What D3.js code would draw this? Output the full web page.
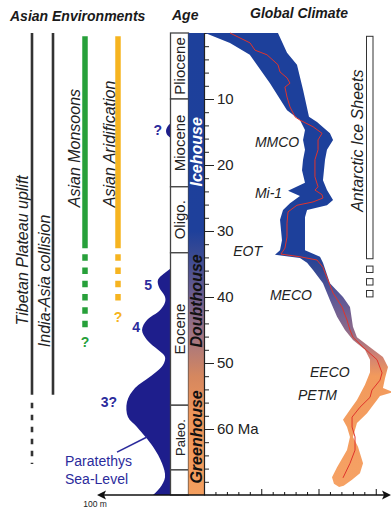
<!DOCTYPE html>
<html><head><meta charset="utf-8">
<script src="https://cdn.jsdelivr.net/npm/d3@7"></script>
<style>
body{margin:0;background:#fff}
svg{display:block;font-family:"Liberation Sans",Arial,sans-serif}
</style>
</head><body>
<svg id="chart" width="391" height="509"></svg>
<script>
// ---- Geological time scale (Ma) ----
const epochNames = ["Pliocene", "Miocene", "Oligo.", "Eocene", "Paleo.", ""];
const epochBounds = [0, 10, 23.3, 33.3, 56.4, 66.2, 70];
const ageMinorTicks = d3.range(0, 70, 2);
const ageMajorTicks = [10, 20, 30, 40, 50, 60];

// Climate states and the age where each label is centred
const stateNames = ["Icehouse", "Doubthouse", "Greenhouse"];
const stateAges = [18.0, 40.6, 61.2];

// ---- Asian environment records (ages in Ma) ----
const envNames = ["Tibetan Plateau uplift", "India-Asia collision", "Asian Monsoons", "Asian Aridification"];
const envStart = [0, 0, 0.5, 0.5];
const envSolidEnd = [54.8, 54.8, 32.6, 32.6];
const envDashEnd = [65.3, null, 44.6, 40.8];
const envQuery = [false, false, true, true];

// ---- Antarctic ice sheets ----
const iceStart = 0.5, iceEnd = 34.2;
const iceEphemeral = [35.8, 37.7, 39.5];

// ---- Paratethys sea level (m above base) ----
const seaAges = [35.6, 36.1, 37.4, 38.5, 40.0, 40.8, 42.0, 43.5, 45.0, 46.5, 48.0, 49.1, 50.3, 52.1, 53.8, 55.9, 58.2, 59.7, 62.7, 65.2, 67.3, 68.9, 70.0];
const seaLevels = [0, 5.6, 18.3, 16.9, 8.4, 8.4, 15.5, 33.8, 40.8, 33.8, 18.3, 8.4, 11.3, 29.6, 50.7, 62.0, 60.6, 47.9, 25.3, 12.7, 8.4, 15.5, 25.3];
const seaMioAges = [13.6, 14.2, 14.8, 15.4, 15.9];
const seaMioLevels = [0, 5, 7, 5.5, 0];
const seaCycleNames = ["?", "5", "4", "3?"];
const seaCycleAges = [15.5, 38.9, 45.3, 56.7];
const seaCycleLevels = [12.7, 26.8, 43.6, 76];

// ---- Global climate curve: envelope edges and central curve [age, value] ----
const climateLeft = [[0,0.1],[1.5,2.27],[3.3,4.0],[7.6,5.76],[11.7,7.25],[13.2,8.38],[14.7,8.82],[16.2,8.65],[17.7,8.82],[19.2,8.65],[20.8,8.56],[22.7,8.82],[23.9,7.34],[24.7,8.38],[25.8,7.51],[26.8,6.9],[28.3,6.64],[31.4,6.81],[32.9,6.64],[33.6,6.2],[34.1,8.38],[34.8,9.0],[35.9,9.52],[37.9,10.39],[40.5,11.0],[43.0,11.62],[45.0,12.31],[46.5,13.01],[48.0,14.06],[49.5,14.5],[51.4,14.5],[53.3,14.06],[55.6,13.36],[57.1,12.75],[58.6,12.14],[59.7,12.49],[61.2,12.75],[63.2,12.49],[65.8,11.62],[67.3,11.18],[68.3,11.35],[68.8,11.8]];
const climateRight = [[0,6.46],[3.0,7.25],[4.8,8.12],[8.6,8.65],[12.7,9.17],[13.5,9.87],[15.2,11.0],[16.2,11.27],[17.7,10.74],[19.2,10.57],[22.3,10.39],[23.8,10.74],[25.3,11.27],[26.1,10.74],[26.8,9.0],[27.9,8.82],[31.4,8.82],[32.9,8.82],[33.9,10.13],[34.8,10.39],[37.9,11.0],[40.0,12.14],[41.5,12.75],[44.5,13.01],[46.1,13.36],[47.6,14.5],[49.1,15.63],[50.6,16.07],[52.3,15.81],[53.8,15.63],[54.4,16.51],[55.0,15.37],[55.6,15.11],[57.6,14.24],[59.1,13.36],[61.2,13.01],[62.7,13.45],[65.2,13.89],[66.7,13.62],[67.7,12.93],[68.6,12.2]];
const climateMid = [[0,2.27],[1.5,4.02],[2.6,4.45],[3.3,5.5],[4.8,6.46],[5.9,6.64],[6.8,7.25],[7.6,7.51],[8.2,7.07],[9.7,7.25],[11.2,7.51],[12.7,7.95],[13.2,8.38],[14.2,9.52],[15.2,10.31],[16.2,9.96],[17.7,9.96],[19.2,9.69],[21.8,9.69],[23.3,9.96],[23.8,9.69],[24.5,10.31],[25.0,10.39],[25.6,9.52],[26.1,8.12],[27.1,7.34],[28.8,7.25],[30.9,7.25],[32.6,7.07],[33.5,6.72],[33.9,8.38],[34.4,9.87],[35.5,10.39],[39.4,11.27],[41.5,12.05],[43.5,12.49],[45.0,12.75],[46.1,13.01],[47.6,13.89],[49.5,15.11],[51.5,15.55],[52.6,15.37],[54.1,14.67],[55.2,14.5],[56.7,13.62],[58.2,12.93],[59.7,12.93],[61.2,13.19],[63.2,13.19],[65.2,12.75],[67.4,12.14]];
const eventNames = ["MMCO", "Mi-1", "EOT", "MECO", "EECO", "PETM"];
const eventAges = [17.3, 25.0, 33.8, 40.5, 52.1, 55.6];
const eventValues = [4.45, 4.45, 2.55, 5.76, 9.26, 8.21];
const climateTicks = d3.range(1, 16);
const climateMajor = [5, 10, 15];

// Colour ramps along the age axis
const barStopAges = [0, 30, 34, 40, 46, 52, 58, 70];
const barStopColors = ["#1d409b", "#1e409b", "#3c4b92", "#6f5f8e", "#a37581", "#d5875f", "#ef965a", "#f49f5f"];
const bandStopAges = [0, 33, 36, 40, 45, 49, 52, 70];
const bandStopColors = ["#1d409b", "#1d409b", "#354892", "#5b5797", "#8c6a8a", "#d08273", "#f29a5c", "#f6a265"];

// ---- Scales ----
const svg = d3.select("#chart");
const y = d3.scaleLinear().domain([0, 70]).range([33, 495]);
const xc = d3.scaleLinear().domain([0, 16]).range([204, 204 + 16 * 11.45]);
const xs = d3.scaleLinear().domain([0, 100]).range([171, 100]);

const defs = svg.append("defs");
function gradient(id, ages, colors) {
  const g = defs.append("linearGradient").attr("id", id)
    .attr("gradientUnits", "userSpaceOnUse")
    .attr("x1", 0).attr("x2", 0).attr("y1", y(0)).attr("y2", y(70));
  ages.forEach((a, i) => g.append("stop").attr("offset", a / 70).attr("stop-color", colors[i]));
}
gradient("barGrad", barStopAges, barStopColors);
gradient("bandGrad", bandStopAges, bandStopColors);

// ---- Headers ----
const hdr = svg.append("g").attr("font-weight", "bold").attr("font-style", "italic")
  .attr("font-size", 14).attr("fill", "#1a1a1a");
hdr.append("text").attr("x", 10).attr("y", 21).text("Asian Environments");
hdr.append("text").attr("x", 172).attr("y", 20).text("Age");
hdr.append("text").attr("x", 250).attr("y", 18).text("Global Climate");

// ---- Asian environment bars ----
const envX = [32, 53, 85, 118];
const envColor = ["#333", "#333", "#27a03a", "#f6b420"];
const envWidth = [2.6, 2.6, 5.5, 5.5];
const envLabelX = [28, 50, 80, 115];
const envLabelStart = [44.3, 47.6, 26.4, 26.4];
envNames.forEach((name, i) => {
  svg.append("line").attr("x1", envX[i]).attr("x2", envX[i])
    .attr("y1", y(envStart[i])).attr("y2", y(envSolidEnd[i]))
    .attr("stroke", envColor[i]).attr("stroke-width", envWidth[i]);
  if (envDashEnd[i] !== null) {
    const dash = i < 2 ? "5.5,6.5" : "6.5,6.8";
    svg.append("line").attr("x1", envX[i]).attr("x2", envX[i])
      .attr("y1", y(envSolidEnd[i]) + (i < 2 ? 8 : 6)).attr("y2", y(envDashEnd[i]))
      .attr("stroke", envColor[i]).attr("stroke-width", envWidth[i])
      .attr("stroke-dasharray", dash);
  }
  if (envQuery[i]) {
    svg.append("text").attr("x", envX[i]).attr("y", y(envDashEnd[i]) + 20)
      .attr("text-anchor", "middle").attr("font-size", 14).attr("font-weight", "bold")
      .attr("fill", envColor[i]).text("?");
  }
  svg.append("text")
    .attr("transform", `translate(${envLabelX[i]},${y(envLabelStart[i])}) rotate(-90)`)
    .attr("font-size", 16).attr("font-style", "italic").attr("fill", "#222")
    .text(name);
});

// ---- Paratethys sea level ----
const seaColor = "#1e1e8c";
const seaArea = d3.area().curve(d3.curveCatmullRom.alpha(0.5))
  .y(d => y(d[0])).x0(xs(0)).x1(d => xs(d[1]));
svg.append("path").datum(seaAges.map((a, i) => [a, seaLevels[i]]))
  .attr("d", seaArea).attr("fill", seaColor);
svg.append("path").datum(seaMioAges.map((a, i) => [a, seaMioLevels[i]]))
  .attr("d", seaArea).attr("fill", seaColor);
seaCycleNames.forEach((n, i) => {
  svg.append("text").attr("x", xs(seaCycleLevels[i])).attr("y", y(seaCycleAges[i]))
    .attr("text-anchor", "end").attr("font-size", 14).attr("font-weight", "bold")
    .attr("fill", "#2b2b9c").text(n);
});
svg.append("line").attr("x1", xs(33.8)).attr("y1", y(61.2))
  .attr("x2", xs(76)).attr("y2", y(63.5)).attr("stroke", "#2b2b9c").attr("stroke-width", 1.6);
svg.append("text").attr("x", 65).attr("y", 466).attr("font-size", 14).attr("fill", "#2b2b9c").text("Paratethys");
svg.append("text").attr("x", 65).attr("y", 484).attr("font-size", 14).attr("fill", "#2b2b9c").text("Sea-Level");

// ---- Epoch column ----
const epochs = epochNames.map((n, i) => ({ name: n, top: epochBounds[i], bottom: epochBounds[i + 1] }));
const eg = svg.append("g");
eg.selectAll("rect").data(epochs).join("rect")
  .attr("x", 170.5).attr("width", 18)
  .attr("y", d => y(d.top)).attr("height", d => y(d.bottom) - y(d.top))
  .attr("fill", "#fff").attr("stroke", "#444").attr("stroke-width", 1.3);
eg.selectAll("text").data(epochs).join("text")
  .attr("transform", d => `translate(185,${(y(d.top) + y(d.bottom)) / 2}) rotate(-90)`)
  .attr("text-anchor", "middle").attr("font-size", d => d.name === "Paleo." ? 13 : 15)
  .attr("fill", "#222").text(d => d.name);

// ---- Climate state bar ----
svg.append("rect").attr("x", 188.5).attr("y", y(0)).attr("width", 15.5)
  .attr("height", y(70) - y(0)).attr("fill", "url(#barGrad)");
stateNames.forEach((n, i) => {
  svg.append("text")
    .attr("transform", `translate(202,${y(stateAges[i])}) rotate(-90)`)
    .attr("text-anchor", "middle").attr("font-size", 16).attr("font-weight", "bold")
    .attr("font-style", "italic").attr("fill", i === 0 ? "#fff" : "#111").text(n);
});

// ---- Age axis ----
svg.append("g").attr("transform", "translate(204,0)")
  .call(d3.axisRight(y).tickValues(ageMinorTicks).tickSize(5).tickSizeOuter(0).tickFormat(""))
  .call(g => g.select(".domain").attr("stroke", "#222").attr("stroke-width", 1.2))
  .call(g => g.selectAll(".tick line").attr("stroke", "#222"));
svg.append("g").attr("transform", "translate(204,0)")
  .call(d3.axisRight(y).tickValues(ageMajorTicks).tickSize(10).tickPadding(3)
    .tickFormat(d => d === 60 ? "60 Ma" : d))
  .call(g => g.select(".domain").remove())
  .call(g => g.selectAll(".tick line").attr("stroke", "#222"))
  .call(g => g.selectAll(".tick text").attr("font-size", 15).attr("fill", "#222")
    .attr("font-family", "Liberation Sans, Arial, sans-serif"));

// ---- Antarctic ice sheets ----
svg.append("rect").attr("x", 366.5).attr("width", 6.5).attr("y", y(iceStart))
  .attr("height", y(iceEnd) - y(iceStart)).attr("fill", "#fff")
  .attr("stroke", "#333").attr("stroke-width", 1);
svg.selectAll(".ice").data(iceEphemeral).join("rect").attr("class", "ice")
  .attr("x", 366.5).attr("width", 6.5).attr("y", d => y(d) - 3.2).attr("height", 6.4)
  .attr("fill", "#fff").attr("stroke", "#333").attr("stroke-width", 1);
svg.append("text").attr("transform", `translate(363,${y(27.1)}) rotate(-90)`)
  .attr("font-size", 16).attr("font-style", "italic").attr("fill", "#222")
  .text("Antarctic Ice Sheets");

// ---- Global climate curve ----
const edge = d3.line().x(d => xc(d[1])).y(d => y(d[0]));
svg.append("path")
  .attr("d", edge(climateLeft.concat(climateRight.slice().reverse())) + "Z")
  .attr("fill", "url(#bandGrad)");
svg.append("path").attr("d", edge(climateMid)).attr("fill", "none")
  .attr("stroke", "#e0342c").attr("stroke-width", 1);
eventNames.forEach((n, i) => {
  svg.append("text").attr("x", xc(eventValues[i])).attr("y", y(eventAges[i]))
    .attr("font-size", 14).attr("font-style", "italic").attr("fill", "#222").text(n);
});

// ---- Bottom axes (sea level to the left, climate to the right) ----
svg.append("line").attr("x1", 102).attr("x2", 385).attr("y1", 495).attr("y2", 495)
  .attr("stroke", "#111").attr("stroke-width", 1.3);
svg.append("path").attr("d", "M97,495 L106,490.5 L104,495 L106,499.5 Z").attr("fill", "#111");
svg.append("path").attr("d", "M391,495 L382,490.5 L384,495 L382,499.5 Z").attr("fill", "#111");
svg.append("g").attr("transform", "translate(0,495)")
  .call(d3.axisTop(xc).tickValues(climateTicks)
    .tickSize(3).tickSizeOuter(0).tickFormat(""))
  .call(g => g.select(".domain").remove())
  .call(g => g.selectAll(".tick line").attr("stroke", "#111")
    .attr("y2", d => climateMajor.includes(d) ? -6 : -3));
svg.append("text").attr("x", 95).attr("y", 507).attr("text-anchor", "middle")
  .attr("font-size", 8.5).attr("fill", "#222").text("100 m");
</script>
</body></html>
